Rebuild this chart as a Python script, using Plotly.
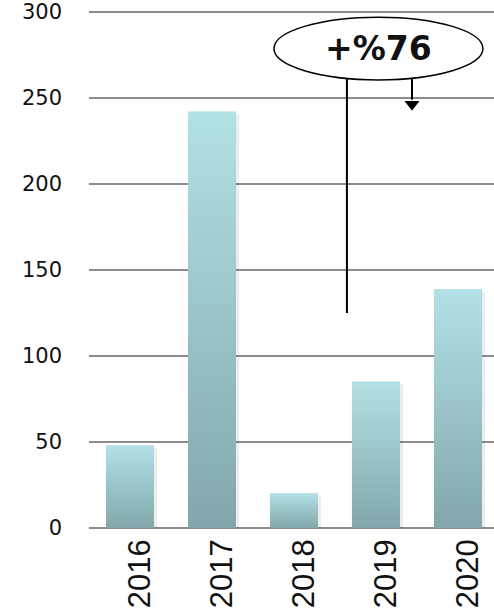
import plotly.graph_objects as go

years = ["2016", "2017", "2018", "2019", "2020"]
values = [48, 242, 20, 85, 139]
y_ticks = [0, 50, 100, 150, 200, 250, 300]
badge_text = "+%76"

top_color = "#B2E1E6"
bottom_color = "#82A7AA"
bar_width = 0.585

idx = list(range(len(years)))

fig = go.Figure()

# base bar trace (data)
fig.add_trace(go.Bar(x=idx, y=values, width=bar_width, marker=dict(color="#9CC4C8", line=dict(width=0)),
                     showlegend=False, hoverinfo="skip"))

# gradient overlay per bar, built from the same data
for i, v in zip(idx, values):
    h = bar_width / 2
    # subtle shadow
    fig.add_trace(go.Scatter(x=[i - h + 0.03, i + h + 0.04, i + h + 0.04, i - h + 0.03, i - h + 0.03],
                             y=[0, 0, v - 1.5, v - 1.5, 0], fill="toself", mode="lines",
                             line=dict(width=0), fillcolor="rgba(0,0,0,0.07)",
                             showlegend=False, hoverinfo="skip"))
    fig.add_trace(go.Scatter(x=[i - h, i + h, i + h, i - h, i - h],
                             y=[0, 0, v, v, 0], fill="toself", mode="lines",
                             line=dict(width=0),
                             fillgradient=dict(type="vertical", start=0, stop=v,
                                               colorscale=[[0, bottom_color], [1, top_color]]),
                             showlegend=False, hoverinfo="skip"))

# callout: line, arrow, ellipse, text
fig.add_shape(type="line", x0=2.646, x1=2.646, y0=125, y1=261, xref="x", yref="y",
              line=dict(color="black", width=2))
fig.add_shape(type="line", x0=3.44, x1=3.44, y0=249, y1=261, xref="x", yref="y",
              line=dict(color="black", width=2))
fig.add_trace(go.Scatter(x=[3.44], y=[246.3], mode="markers",
                         marker=dict(symbol="triangle-down", size=13, color="black", line=dict(width=0)),
                         showlegend=False, hoverinfo="skip"))
fig.add_shape(type="circle", x0=1.756, x1=4.305, y0=260.5, y1=297, xref="x", yref="y",
              line=dict(color="black", width=1.5), fillcolor="white", layer="above")
fig.add_annotation(x=3.03, y=278.5, xref="x", yref="y", text="<b>" + badge_text + "</b>",
                   showarrow=False, font=dict(family="DejaVu Sans", size=33, color="#111111"))

fig.update_layout(
    width=494, height=613,
    margin=dict(l=89, r=0, t=10, b=83, autoexpand=False),
    paper_bgcolor="white", plot_bgcolor="white",
    xaxis=dict(range=[-0.5, 4.44], tickmode="array", tickvals=idx, ticktext=years,
               tickangle=-90, ticks="", showgrid=False, zeroline=False, showline=False,
               automargin=False,
               tickfont=dict(family="Liberation Sans", size=31, color="#111111"),
               ticklabelstandoff=2, ticklabelshift=10, fixedrange=True),
    yaxis=dict(range=[-1.16, 301.16], tickmode="array", tickvals=y_ticks, ticks="",
               showgrid=True, gridcolor="#8c8c8c", gridwidth=1.5, zeroline=False, showline=False,
               automargin=False,
               tickfont=dict(family="DejaVu Sans", size=21, color="#111111"),
               ticklabelstandoff=26, fixedrange=True),
)

fig.write_html("out.html", config={"displayModeBar": False},
               post_script="document.body.style.margin='0';document.body.style.padding='0';")
